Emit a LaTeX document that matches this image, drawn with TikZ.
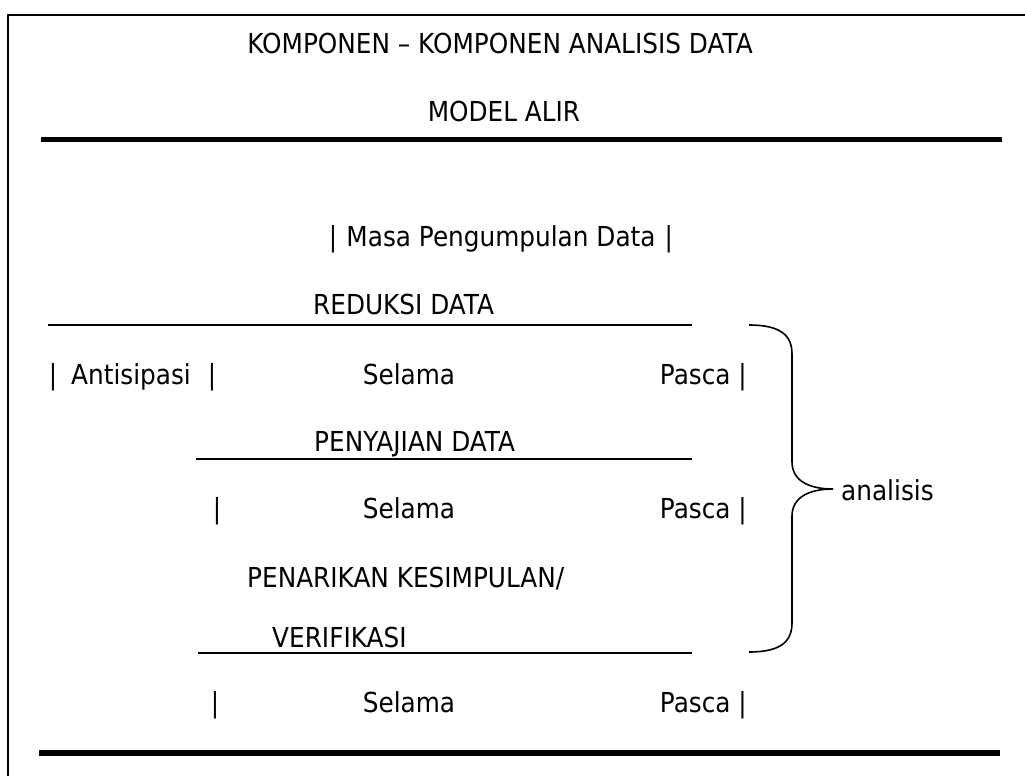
\documentclass[tikz,border=0pt]{standalone}
\usepackage{fontspec}
\setmainfont{DejaVu Sans}[FakeStretch=0.9]
\begin{document}
\begin{tikzpicture}[x=1pt,y=-1pt,
  txt/.style={inner sep=0pt, anchor=base west, font=\fontsize{27.5}{33}\selectfont},
  ctxt/.style={txt, anchor=base},
  rtxt/.style={txt, anchor=base east},
  thin/.style={line width=1.8pt},
  thick/.style={line width=5.8pt},
  frame/.style={line width=2pt},
  bracestyle/.style={line width=1.6pt}]
\useasboundingbox (0,0) rectangle (1025,776);
% frame (left and top edges)
\draw[frame] (8,776) -- (8,15) -- (1025,15);
% title
\node[ctxt] (t1) at (500,54) {KOMPONEN – KOMPONEN ANALISIS DATA};
\node[ctxt] (t2) at (504,121) {MODEL ALIR};
\draw[thick] (41,139.5) -- (1002,139.5);
% masa pengumpulan
\node[ctxt] (masa) at (501,246) {|\,\,Masa Pengumpulan Data\,\,|};
% reduksi
\node[txt] (red) at (313,314) {REDUKSI DATA};
\draw[thin] (48,325) -- (692,325);
\node[ctxt] (ant0) at (53,384) {|};
\node[txt] (ant) at (71,384) {Antisipasi};
\node[ctxt] (ant1) at (212,384) {|};
\node[ctxt] (sel1) at (409,384) {Selama};
\node[rtxt] (pas1) at (747,384) {Pasca |};
% penyajian
\node[txt] (pen) at (314,451) {PENYAJIAN DATA};
\draw[thin] (196,459) -- (692,459);
\node[ctxt] (bar2) at (217,518) {|};
\node[ctxt] (sel2) at (409,518) {Selama};
\node[rtxt] (pas2) at (747,518) {Pasca |};
% penarikan
\node[txt] (kes) at (247,587) {PENARIKAN KESIMPULAN/};
\node[txt] (ver) at (272,647) {VERIFIKASI};
\draw[thin] (198,653) -- (692,653);
\node[ctxt] (bar3) at (215,712) {|};
\node[ctxt] (sel3) at (409,712) {Selama};
\node[rtxt] (pas3) at (747,712) {Pasca |};
% brace
\draw[bracestyle] (749,325) .. controls (780,325) and (792,335) .. (792,354)
  -- (792,462) .. controls (792,480) and (808,489) .. (833,489)
  .. controls (808,489) and (792,498) .. (792,516)
  -- (792,623) .. controls (792,642) and (780,652) .. (749,652);
\node[txt] (ana) at (841,500) {analisis};
% bottom rule
\draw[thick] (39,753) -- (1000,753);
\end{tikzpicture}
\end{document}
